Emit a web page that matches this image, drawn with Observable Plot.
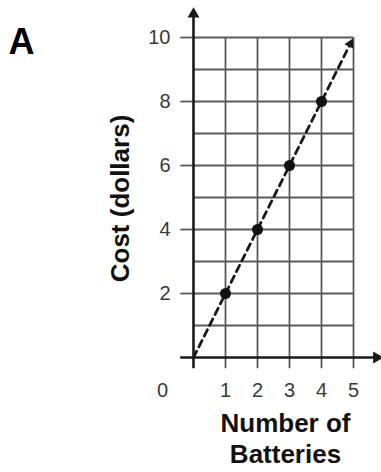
<!DOCTYPE html>
<html>
<head>
<meta charset="utf-8">
<script src="https://cdn.jsdelivr.net/npm/d3@7"></script>
<script src="https://cdn.jsdelivr.net/npm/@observablehq/plot@0.6"></script>
<style>
  html, body { margin: 0; padding: 0; background: #fff; }
  svg { display: block; }
</style>
</head>
<body>
<div id="chart"></div>
<script>
// data
const batteries = [1, 2, 3, 4];
const cost = [2, 4, 6, 8];
const xTicks = [1, 2, 3, 4, 5];
const originTick = [0];
const yTicks = [2, 4, 6, 8, 10];
const xGrid = [1, 2, 3, 4, 5];
const yGrid = [1, 2, 3, 4, 5, 6, 7, 8, 9, 10];
const panelLabel = "A";
const xTitle = "Number of\nBatteries";
const yTitle = "Cost (dollars)";
// trend line endpoints (cost = 2 × batteries)
const trendX = [0, 4.9];
const trendY = [0, 9.8];

const points = batteries.map((b, i) => ({b, c: cost[i]}));
const trend = trendX.map((x, i) => ({x, y: trendY[i]}));

const font = "Liberation Sans, Arial, Helvetica, sans-serif";

const plot = Plot.plot({
  width: 381,
  height: 472,
  marginLeft: 193,
  marginRight: 28,
  marginTop: 37,
  marginBottom: 115,
  x: {domain: [0, 5], axis: null},
  y: {domain: [0, 10], axis: null},
  style: {background: "#fff", fontFamily: font, overflow: "visible"},
  marks: [
    // grid
    Plot.ruleY(yGrid, {x1: 0, x2: 5, stroke: "#5a5a5a", strokeWidth: 1.8}),
    Plot.ruleY(yTicks, {x1: -0.4, x2: 0, stroke: "#5a5a5a", strokeWidth: 1.8}),
    Plot.ruleX(xGrid, {y1: -0.35, y2: 10, stroke: "#5a5a5a", strokeWidth: 1.8}),
    // axes
    Plot.ruleX([0], {y1: -0.35, y2: 10.75, stroke: "#1a1a1a", strokeWidth: 2.6}),
    Plot.ruleY([0], {x1: -0.4, x2: 5.7, stroke: "#1a1a1a", strokeWidth: 2.6}),
    Plot.dot([0], {x: 0, y: 10.73, symbol: "triangle", r: 4.4, fill: "#1a1a1a", stroke: "none"}),
    Plot.dot([0], {x: 5.72, y: 0, symbol: "triangle", r: 4.4, rotate: 90, fill: "#1a1a1a", stroke: "none"}),
    // dashed trend line
    Plot.line(trend, {x: "x", y: "y", stroke: "#1a1a1a", strokeWidth: 2.8, strokeDasharray: "7,5"}),
    Plot.dot([trend[1]], {x: "x", y: "y", symbol: "triangle", r: 3.8, rotate: 26.6, fill: "#1a1a1a", stroke: "none"}),
    // points
    Plot.dot(points, {x: "b", y: "c", r: 5.5, fill: "#111", stroke: "none"}),
    // tick labels
    Plot.text(yTicks, {x: 0, y: d => d, text: d => String(d), dx: -23, textAnchor: "end", fontSize: 20, fill: "#3a3a3a"}),
    Plot.text(xTicks, {x: d => d, y: 0, text: d => String(d), dy: 33, fontSize: 20, fill: "#3a3a3a"}),
    Plot.text(originTick, {x: d => d, y: 0, text: d => String(d), dx: -31, dy: 33, fontSize: 20, fill: "#3a3a3a"}),
    // titles
    Plot.text([xTitle], {frameAnchor: "bottom", text: d => d, dx: 12, dy: 80, textAnchor: "middle", lineAnchor: "middle", lineHeight: 1.2, fontSize: 26, fontWeight: "bold", fill: "#111"}),
    Plot.text([yTitle], {frameAnchor: "left", text: d => d, dx: -73, dy: 1, textAnchor: "middle", rotate: -90, fontSize: 26, fontWeight: "bold", fill: "#111"}),
    Plot.text([panelLabel], {frameAnchor: "top-left", text: d => d, dx: -185, dy: -9, textAnchor: "start", fontSize: 36, fontWeight: "bold", fill: "#000"})
  ]
});

document.getElementById("chart").appendChild(plot);
</script>
</body>
</html>
